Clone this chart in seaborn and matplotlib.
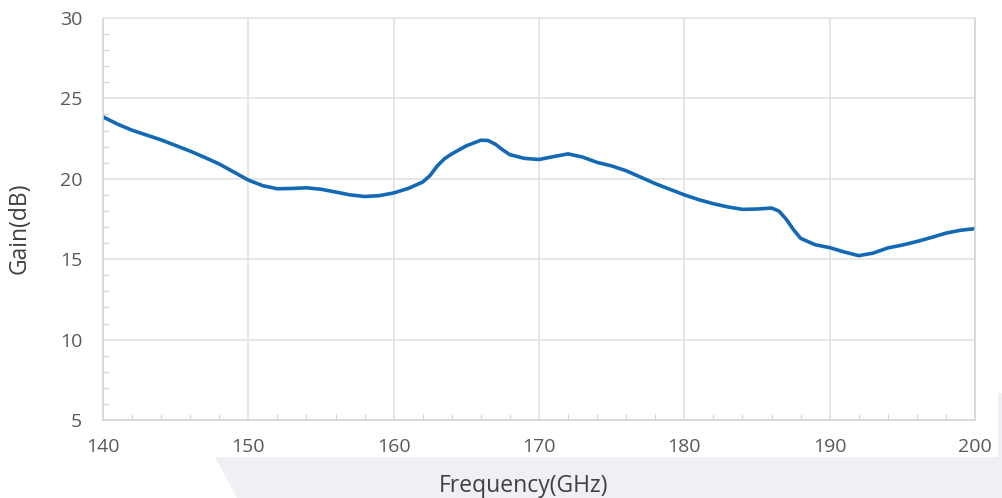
import numpy as np
import pandas as pd
import seaborn as sns
import matplotlib
matplotlib.use("Agg")
import matplotlib.pyplot as plt
from matplotlib.patches import Polygon, Rectangle

freq = [140, 141, 142, 143, 144, 145, 146, 147, 148, 149, 150, 151, 152, 153, 154, 155,
        156, 157, 158, 159, 160, 161, 162, 162.5, 163, 163.5, 164, 165, 166, 166.5, 167, 167.5, 168, 169, 170, 171,
        172, 173, 174, 175, 176, 177, 178, 179, 180, 181, 182, 183, 184, 185, 186, 186.5, 187, 187.5,
        188, 189, 190, 191, 192, 193, 194, 195, 196, 197, 198, 199, 200]
gain = [23.85, 23.4, 23.02, 22.72, 22.42, 22.07, 21.72, 21.33, 20.92, 20.42, 19.92, 19.57, 19.38, 19.4, 19.44, 19.35,
        19.18, 19.0, 18.9, 18.95, 19.12, 19.4, 19.8, 20.2, 20.8, 21.25, 21.55, 22.05, 22.4, 22.38, 22.15, 21.8, 21.5, 21.27, 21.2, 21.38,
        21.55, 21.35, 21.02, 20.8, 20.5, 20.1, 19.7, 19.35, 19.0, 18.7, 18.45, 18.25, 18.1, 18.12, 18.18, 18.0, 17.5, 16.85,
        16.3, 15.9, 15.72, 15.45, 15.22, 15.38, 15.7, 15.88, 16.1, 16.35, 16.62, 16.8, 16.9]

x_ticks = [140, 150, 160, 170, 180, 190, 200]
y_ticks = [5, 10, 15, 20, 25, 30]
x_label = "Frequency(GHz)"
y_label = "Gain(dB)"

df = pd.DataFrame({"freq": freq, "gain": gain})

sns.set_theme(style="white")
plt.rcParams["font.family"] = ["Open Sans", "DejaVu Sans"]

fig = plt.figure(figsize=(10.03, 4.98), dpi=100)
# light decorative background shapes
fig.patches.append(Polygon([[215/1003, 1-457/498], [1, 1-457/498], [1, 0], [237/1003, 0]],
                           closed=True, transform=fig.transFigure, facecolor="#eef0f4",
                           edgecolor="none", zorder=-5))
fig.patches.append(Rectangle((998/1003, 0), 5/1003, 1-393/498, transform=fig.transFigure,
                             facecolor="#eef0f4", edgecolor="none", zorder=-5))

ax = fig.add_axes([103/1003, 1-420/498, (975-103)/1003, (420-18)/498])
sns.lineplot(data=df, x="freq", y="gain", ax=ax, color="#1469b4", linewidth=2.6)
for ln in ax.lines:
    ln.set_solid_joinstyle("round")
    ln.set_solid_capstyle("round")

ax.set_xlim(140, 200)
ax.set_ylim(5, 30)
ax.set_xticks(x_ticks)
ax.set_yticks(y_ticks)
ax.set_xticks(np.arange(140, 201, 2), minor=True)
ax.set_yticks(np.arange(5, 31, 1), minor=True)
ax.grid(True, which="major", color="#e2e2e2", linewidth=1.2)
ax.set_axisbelow(True)

ax.tick_params(axis="both", which="major", length=0, labelsize=14, labelcolor="#595959")
ax.tick_params(axis="x", which="major", pad=13)
ax.tick_params(axis="y", which="major", pad=15)
ax.tick_params(axis="both", which="minor", direction="in", length=4, width=0.9,
               color="#d6d6d6", bottom=True, left=True)

for side in ["left", "bottom", "right"]:
    ax.spines[side].set_visible(True)
    ax.spines[side].set_color("#d6d6d6")
    ax.spines[side].set_linewidth(1.2)
ax.spines["top"].set_visible(True)
ax.spines["top"].set_color("#e6e6e6")
ax.spines["top"].set_linewidth(1.2)

ax.set_xlabel(x_label, fontsize=16.5, color="#404040")
ax.set_ylabel(y_label, fontsize=16.5, color="#404040")
ax.xaxis.set_label_coords((524-103)/872, (420-474)/402)
ax.yaxis.set_label_coords((32-103)/872, (420-228)/402)

fig.savefig("out.png", dpi=100, facecolor="white")
